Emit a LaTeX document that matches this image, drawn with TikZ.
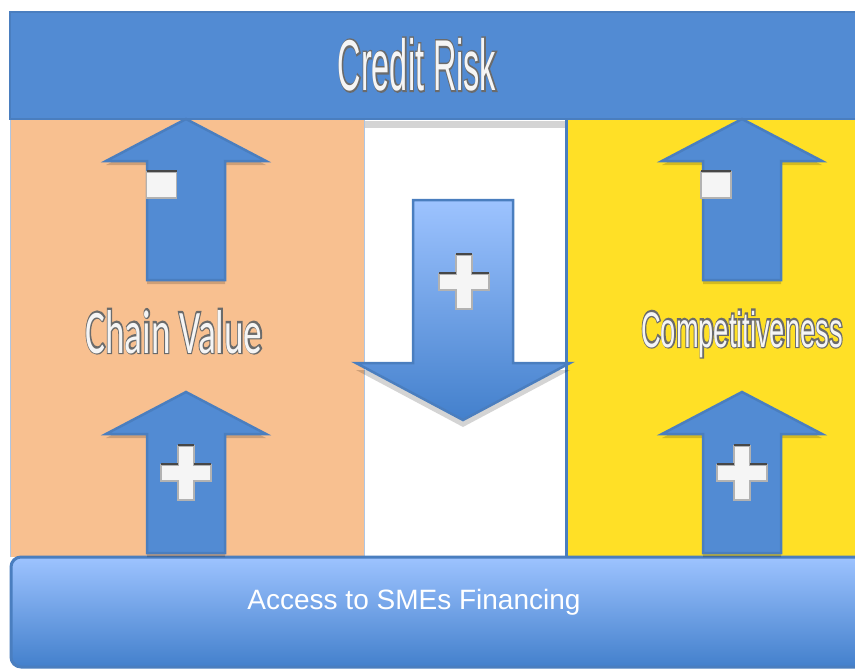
\documentclass[tikz,border=0pt]{standalone}
\usepackage{fontspec}
\setmainfont{Liberation Sans}
\newfontfamily\carlito{Carlito}

\definecolor{riskblue}{HTML}{528BD3}
\definecolor{edgeblue}{HTML}{4A7EBF}
\definecolor{peach}{HTML}{F8C090}
\definecolor{lemon}{HTML}{FFE026}
\definecolor{paleblue}{HTML}{9DC3FF}
\definecolor{deepblue}{HTML}{4380CC}

% glyphs stroked with a wide grey pen, used under the white face
\newcommand{\outlined}[1]{\special{pdf:literal direct 2 Tr 3.6 w 0.42 G 0.42 g}#1}

\begin{document}
\begin{tikzpicture}[x=1pt, y=1pt,
    art rim/.style={text=black!58, anchor=base, inner sep=0},
    art face/.style={text=black!4, anchor=base, inner sep=0},
    arrow body/.style={fill=riskblue, draw=edgeblue, line width=2.5},
    arrow shadow/.style={fill=black, opacity=.17},
    sign face/.style={fill=black!4, draw=black!30, line width=1.2},
    sign rim/.style={draw=black!72, line width=2},
    uparrow/.pic={
      \fill[arrow shadow] (0,-4) -- (80,-46) -- (39,-46) -- (39,-165) -- (-39,-165) -- (-39,-46) -- (-80,-46) -- cycle;
      \draw[arrow body] (0,0) -- (80,-42) -- (39,-42) -- (39,-161) -- (-39,-161) -- (-39,-42) -- (-80,-42) -- cycle;
    },
    plussign/.pic={
      \draw[sign face] (-8,27) -- (8,27) -- (8,8) -- (25,8) -- (25,-8) -- (8,-8) -- (8,-27) -- (-8,-27) -- (-8,-8) -- (-25,-8) -- (-25,8) -- (-8,8) -- cycle;
      \draw[sign rim] (-8,28) -- (8,28) (-25,9) -- (-8,9) (8,9) -- (25,9);
    },
    minussign/.pic={
      \draw[sign face] (-15,-13) rectangle (15,13);
      \draw[sign rim] (-15,14) -- (15,14);
    }]

\useasboundingbox (0,0) rectangle (855,-669);
\clip (0,0) rectangle (855,-669);

% three columns
\fill[peach] (10,-120) rectangle (364,-557);
\draw[edgeblue!45, line width=.8] (10.4,-120) -- (10.4,-557) (364,-120) -- (364,-557);
\fill[black!17] (365,-121) rectangle (565,-128);
\fill[lemon] (567,-118) rectangle (860,-557);
\draw[edgeblue, line width=3] (566.5,-116) -- (566.5,-557);

% top banner
\draw[edgeblue, line width=2, fill=riskblue] (10,-12) rectangle (870,-119);

% bottom bar
\draw[edgeblue, line width=3, rounded corners=10, top color=paleblue, middle color=paleblue!80!deepblue, bottom color=deepblue] (11,-557) rectangle (880,-667);
\node[anchor=base, text=white, font=\fontsize{28}{28}\selectfont] (access) at (414,-609) {Access to SMEs Financing};

% arrows
\pic (chainup) at (186,-119) {uparrow};
\pic (chainin) at (186,-392) {uparrow};
\pic (competup) at (742,-119) {uparrow};
\pic (competin) at (742,-392) {uparrow};

\fill[arrow shadow] (413,-207) -- (513,-207) -- (513,-370) -- (570,-370) -- (463,-427) -- (356,-370) -- (413,-370) -- cycle;
\draw[edgeblue, line width=2.5, top color=paleblue, bottom color=deepblue] (413,-200) -- (513,-200) -- (513,-363) -- (570,-363) -- (463,-420) -- (356,-363) -- (413,-363) -- cycle;

% signs
\pic (chainminus) at (161.5,-185) {minussign};
\pic (competminus) at (716,-185) {minussign};
\pic (chainplus) at (186,-473) {plussign};
\pic (competplus) at (742,-473) {plussign};
\pic (riskplus) at (464,-282) {plussign};

% labels: grey outline below, white face on top
\node[art rim, font=\fontsize{72}{72}\selectfont, xscale=.45] (riskrim) at (417,-90.4) {\outlined{Credit Risk}};
\node[art face, font=\fontsize{72}{72}\selectfont, xscale=.45] (risk) at (417,-91) {Credit Risk};
\node[art rim, font=\carlito\fontsize{62}{62}\selectfont, xscale=.6] (chainrim) at (174,-352.4) {\outlined{Chain Value}};
\node[art face, font=\carlito\fontsize{62}{62}\selectfont, xscale=.6] (chain) at (174,-353) {Chain Value};
\node[art rim, font=\fontsize{50}{50}\selectfont, xscale=.545] (competrim) at (742,-346.4) {\outlined{Competitiveness}};
\node[art face, font=\fontsize{50}{50}\selectfont, xscale=.545] (compet) at (742,-347) {Competitiveness};

\end{tikzpicture}
\end{document}
